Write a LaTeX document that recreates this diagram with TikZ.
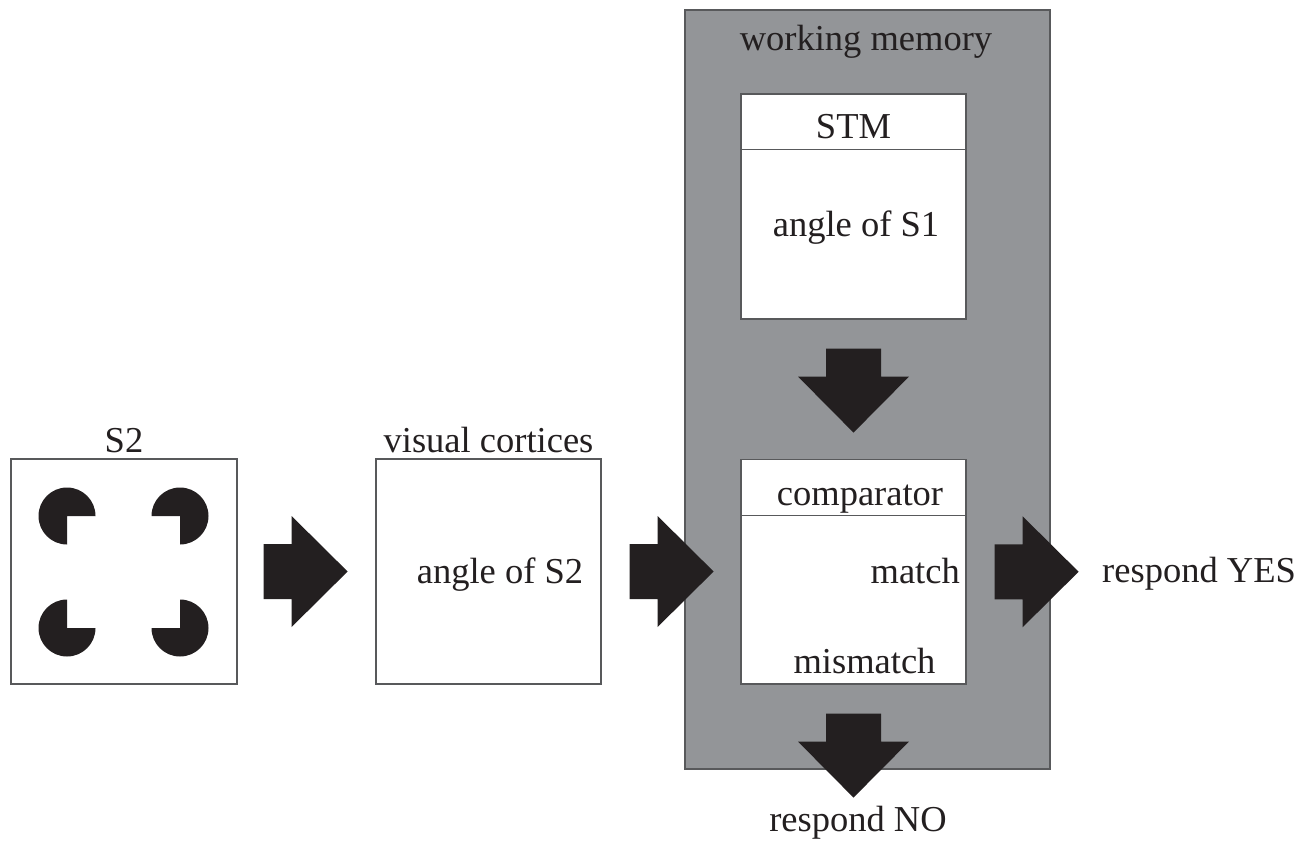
\documentclass[tikz,border=0pt]{standalone}
\usepackage{fontspec}
\setmainfont{Liberation Serif}
\usetikzlibrary{calc}
\definecolor{inkblack}{RGB}{35,31,32}
\definecolor{wmgray}{RGB}{147,149,152}
\definecolor{edgegray}{RGB}{88,89,91}
\begin{document}
\begin{tikzpicture}[x=1pt,y=-1pt,
  every node/.style={font=\fontsize{36.5}{40}\selectfont, text=inkblack},
  box/.style={draw=edgegray, line width=1.2pt, fill=white, inner sep=0pt,
              minimum width=225pt, minimum height=225pt},
  divider/.style={draw=edgegray, line width=1.2pt},
  lbl/.style={anchor=base, inner sep=0pt},
  blockarrow/.pic={\fill[inkblack] (0,-27.5) -- (28,-27.5) -- (28,-55.5)
      -- (84,0) -- (28,55.5) -- (28,27.5) -- (0,27.5) -- cycle;}
]
\useasboundingbox (0,0) rectangle (1314,846);

% working memory container
\node[draw=edgegray, fill=wmgray, line width=1.2pt, inner sep=0pt,
      minimum width=365pt, minimum height=759pt] (wm) at (867.5,389.5) {};
\node[lbl] (wmlbl) at (866,50) {working memory};

% stimulus S2 (Kanizsa square)
\node[lbl] (s2lbl) at (124,452) {S2};
\node[box, minimum width=226pt] (s2box) at (124,571.5) {};
\def\pr{28.5}
\fill[inkblack] (67,516) -- ++(90:\pr) arc[start angle=90, end angle=360, radius=\pr] -- cycle;
\fill[inkblack] (180,516) -- ++(180:\pr) arc[start angle=180, end angle=450, radius=\pr] -- cycle;
\fill[inkblack] (67,628) -- ++(0:\pr) arc[start angle=0, end angle=270, radius=\pr] -- cycle;
\fill[inkblack] (180,628) -- ++(270:\pr) arc[start angle=270, end angle=540, radius=\pr] -- cycle;

% visual cortices
\node[lbl] (vclbl) at (488.5,452) {visual cortices};
\node[box] (vcbox) at (488.5,571.5) {};
\node[lbl] (s2angle) at (500,583) {angle of S2};

% short-term memory
\node[box] (stm) at (853.5,206.5) {};
\draw[divider] ($(stm.north west)+(0,56)$) -- ($(stm.north east)+(0,56)$);
\node[lbl] (stmlbl) at (853.5,138) {STM};
\node[lbl] (s1angle) at (856,236) {angle of S1};

% comparator
\node[box, minimum height=224.5pt] (cmp) at (853.5,571.75) {};
\draw[divider] ($(cmp.north west)+(0,56.5)$) -- ($(cmp.north east)+(0,56.5)$);
\node[lbl] (cmplbl) at (860,505) {comparator};
\node[lbl, anchor=base east] (matchlbl) at (960,583) {match};
\node[lbl] (mismatchlbl) at (864.5,673) {mismatch};

% responses
\node[lbl, anchor=base west] (yeslbl) at (1102,582) {respond YES};
\node[lbl] (nolbl) at (858,831) {respond NO};

% block arrows between stages
\pic at ($(s2box.east)+(26,0)$) {blockarrow};
\pic at ($(vcbox.east)+(28,0)$) {blockarrow};
\pic at ($(cmp.east)+(28,0)$) {blockarrow};
\pic[rotate=-90] at ($(stm.south)+(0,29)$) {blockarrow};
\pic[rotate=-90] at ($(cmp.south)+(0,29)$) {blockarrow};
\end{tikzpicture}
\end{document}
